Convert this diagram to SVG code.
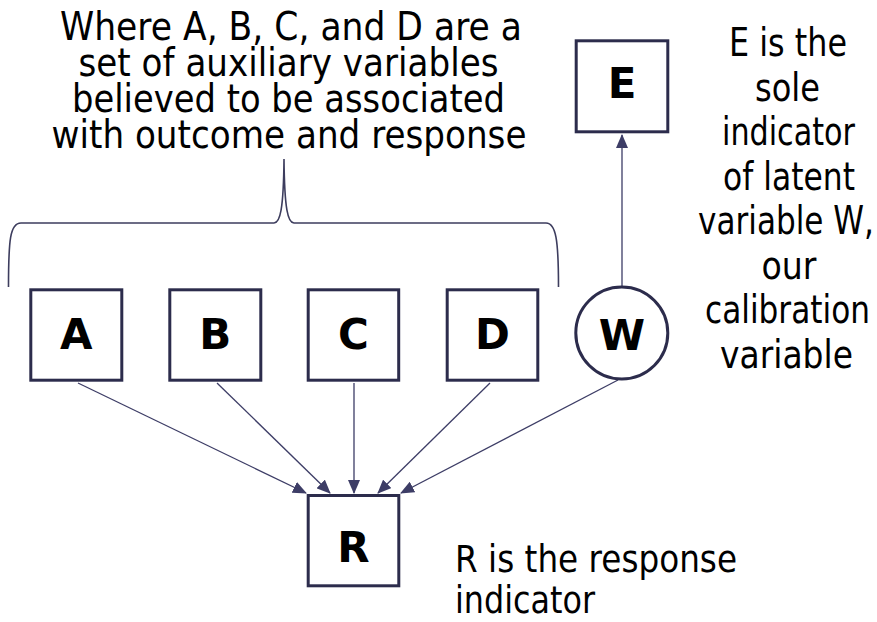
<svg xmlns="http://www.w3.org/2000/svg" width="877" height="622" viewBox="0 0 877 622">
<defs>
<style>
.node{fill:#ffffff;stroke:#2c2c4c;stroke-width:3}
.lbl{font-family:"DejaVu Sans",Verdana,sans-serif;font-weight:bold;font-size:42px;fill:#000;text-anchor:middle}
.txt{font-family:"DejaVu Sans",Verdana,sans-serif;font-size:38.5px;fill:#000}
.small{font-size:37px}
.mid{text-anchor:middle}
.conn{stroke:#3d3d66;stroke-width:1.3;fill:none;marker-end:url(#arr)}
.brace{stroke:#3d3d5e;stroke-width:1.6;fill:none}
</style>
<marker id="arr" markerUnits="userSpaceOnUse" markerWidth="14" markerHeight="12" viewBox="0 0 14 12" refX="13" refY="6" orient="auto">
<path d="M0,0 L14,6 L0,12 z" fill="#3d3d66"/>
</marker>
</defs>
<rect width="877" height="622" fill="#ffffff"/>

<g id="caption-top" class="txt mid">
<text x="291" y="40" textLength="462" lengthAdjust="spacingAndGlyphs">Where A, B, C, and D are a</text>
<text x="288.5" y="75.5" textLength="420" lengthAdjust="spacingAndGlyphs">set of auxiliary variables</text>
<text x="288.5" y="111.5" textLength="433" lengthAdjust="spacingAndGlyphs">believed to be associated</text>
<text x="289" y="147.5" textLength="475" lengthAdjust="spacingAndGlyphs">with outcome and response</text>
</g>

<g id="caption-right" class="txt mid">
<text x="788" y="56" textLength="118" lengthAdjust="spacingAndGlyphs">E is the</text>
<text x="787.5" y="100.5" textLength="65" lengthAdjust="spacingAndGlyphs">sole</text>
<text x="788.5" y="145" textLength="133" lengthAdjust="spacingAndGlyphs">indicator</text>
<text x="789" y="189.5" textLength="132" lengthAdjust="spacingAndGlyphs">of latent</text>
<text x="786" y="234" textLength="176" lengthAdjust="spacingAndGlyphs">variable W,</text>
<text x="789" y="278.5" textLength="55" lengthAdjust="spacingAndGlyphs">our</text>
<text x="787.5" y="323" textLength="165" lengthAdjust="spacingAndGlyphs">calibration</text>
<text x="786.5" y="367.5" textLength="133" lengthAdjust="spacingAndGlyphs">variable</text>
</g>

<g id="caption-bottom" class="txt small">
<text x="455" y="572" textLength="282" lengthAdjust="spacingAndGlyphs">R is the response</text>
<text x="455" y="613" textLength="140" lengthAdjust="spacingAndGlyphs">indicator</text>
</g>

<g id="brace">
<path class="brace" d="M8.5,287 C8.5,240 10,223 21,223 L274,223 C280,223 283.5,210 284,159 C284.5,210 288,223 294,223 L546,223 C556,223 558.5,240 558.5,287"/>
</g>

<g id="connectors">
<line class="conn" x1="78" y1="383" x2="306" y2="493"/>
<line class="conn" x1="217" y1="383" x2="330" y2="493"/>
<line class="conn" x1="354" y1="383" x2="354" y2="493"/>
<line class="conn" x1="490" y1="383" x2="378" y2="493"/>
<line class="conn" x1="618" y1="380" x2="401" y2="493"/>
<line class="conn" x1="622" y1="286" x2="622" y2="135"/>
</g>

<g id="node-A">
<rect class="node" x="30.8" y="289.8" width="91" height="90.4"/>
<text class="lbl" x="76.3" y="349">A</text>
</g>
<g id="node-B">
<rect class="node" x="169.8" y="289.8" width="91" height="90.4"/>
<text class="lbl" x="215.3" y="349">B</text>
</g>
<g id="node-C">
<rect class="node" x="308.2" y="289.8" width="90.5" height="90.4"/>
<text class="lbl" x="353.5" y="349">C</text>
</g>
<g id="node-D">
<rect class="node" x="447.2" y="289.8" width="90.6" height="90.4"/>
<text class="lbl" x="492.5" y="349">D</text>
</g>
<g id="node-W">
<circle class="node" cx="621.8" cy="333" r="46"/>
<text class="lbl" x="621.8" y="349.5">W</text>
</g>
<g id="node-E">
<rect class="node" x="576.2" y="40.8" width="91.6" height="91"/>
<text class="lbl" x="622" y="97.5">E</text>
</g>
<g id="node-R">
<rect class="node" x="308.2" y="495.5" width="90.6" height="90.3"/>
<text class="lbl" x="353.5" y="561.8">R</text>
</g>
</svg>
